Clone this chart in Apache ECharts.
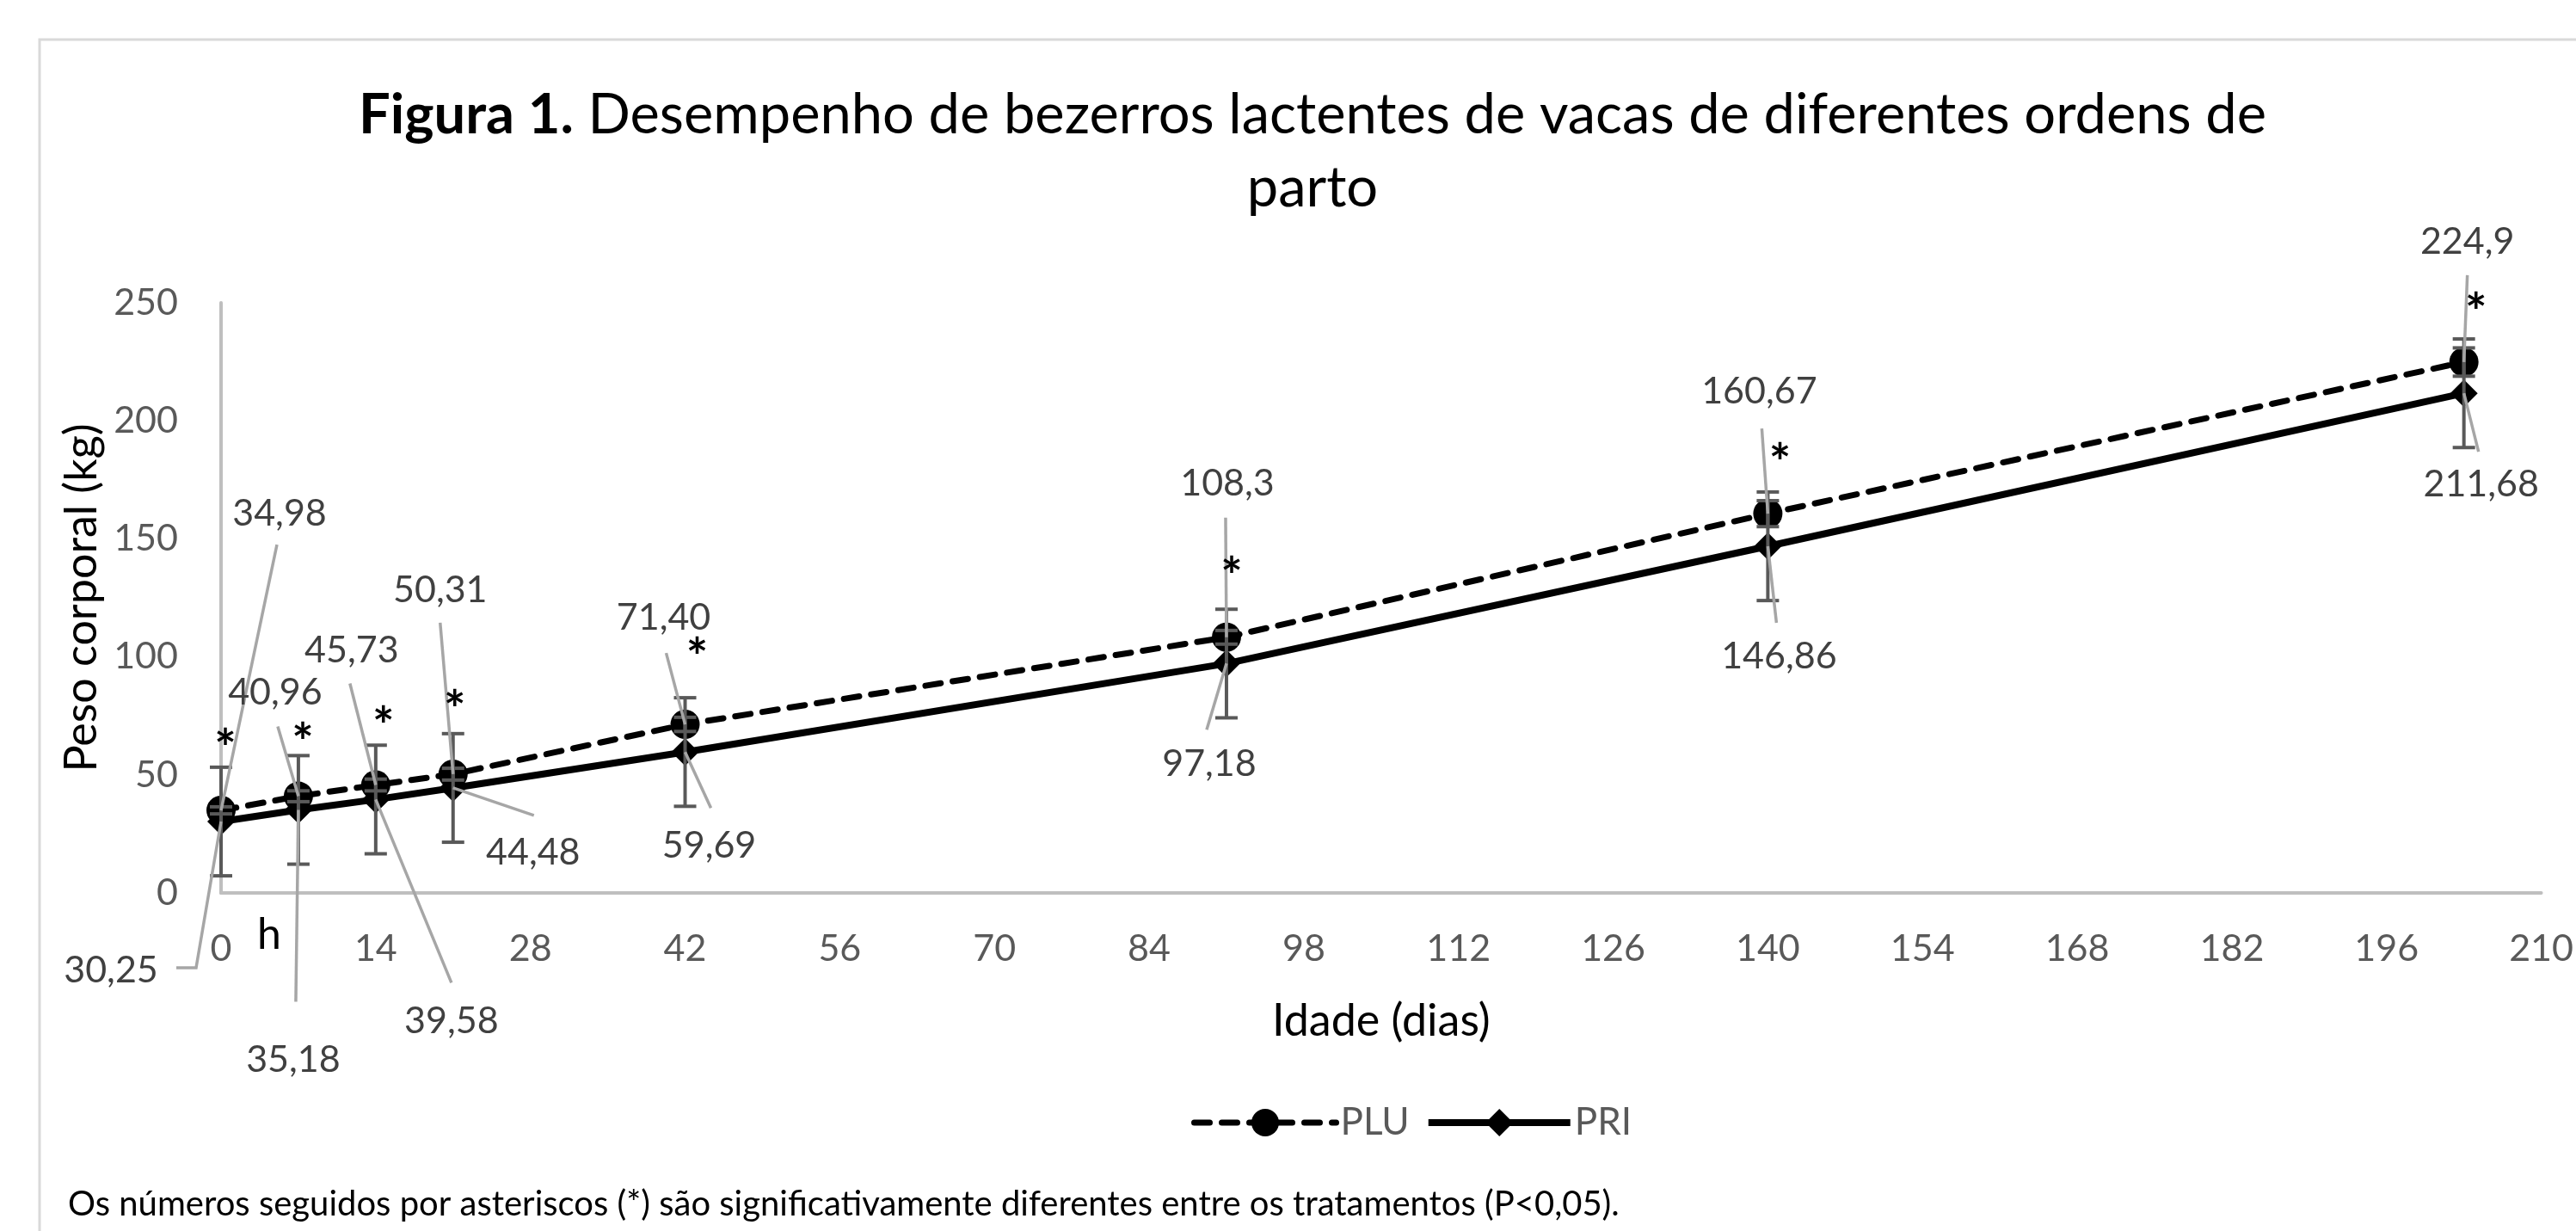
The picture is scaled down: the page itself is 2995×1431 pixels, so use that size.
<!DOCTYPE html>
<html>
<head>
<meta charset="utf-8">
<style>html,body{margin:0;padding:0;background:#fff}#chart{width:2995px;height:1431px}</style>
<script src="https://cdn.jsdelivr.net/npm/echarts@6/dist/echarts.min.js"></script>
</head>
<body>
<div id="chart"></div>
<script>
// idade (dias) de cada pesagem
var dias = [0, 7, 14, 21, 42, 91, 140, 203];
// peso corporal (kg)
var pesoPLU = [34.98, 40.96, 45.73, 50.31, 71.40, 108.3, 160.67, 224.9];
var pesoPRI = [30.25, 35.18, 39.58, 44.48, 59.69, 97.18, 146.86, 211.68];
// barras de erro (kg)
var erroPLU = [1.5, 2.3, 2.5, 2.5, 3, 2.9, 5.5, 6];
var erroPRI = [23, 23, 23, 23, 23, 23, 23, 23];
// rotulos como aparecem na figura
var rotPLU = ['34,98', '40,96', '45,73', '50,31', '71,40', '108,3', '160,67', '224,9'];
var rotPRI = ['30,25', '35,18', '39,58', '44,48', '59,69', '97,18', '146,86', '211,68'];
// eixos
var eixoX = { min: 0, max: 210, passo: 14 };
var eixoY = { min: 0, max: 250, passo: 50 };

// posicao dos rotulos em px em relacao ao ponto: [dx, dy, linhaX, linhaY, cotoveloX]
var posPLU = [[68, -345, 65, -309], [-27, -120, -24, -81], [-28, -156, -30, -118], [-15, -214, -15, -176],
              [-25, -124, -22, -83], [1, -179, -1, -139], [-10, -142, -7, -99], [4, -140, 4, -101]];
var posPRI = [[-128, 173, -52, 170, -29], [-6, 291, -3, 223], [88, 258, 88, 213], [93, 75, 94, 32],
              [28, 109, 30, 65], [-20, 117, -23, 77], [13, 128, 10, 89], [20, 106, 17, 68]];
var posAst = [[5, -70], [5, -61], [9, -67], [2, -73], [14, -76], [6, -69], [14, -57], [14, -56]];

var fonte = 'Lato';

function pares(vals) {
    return dias.map(function (d, i) { return [d, vals[i]]; });
}

function barras(vals, erros) {
    return dias.map(function (d, i) { return [d, vals[i] - erros[i], vals[i] + erros[i]]; });
}

function erroItem(params, api) {
    var x = api.value(0);
    var lo = api.coord([x, api.value(1)]);
    var hi = api.coord([x, api.value(2)]);
    var w = 13;
    var st = { stroke: '#595959', lineWidth: 4 };
    return {
        type: 'group',
        children: [
            { type: 'line', shape: { x1: lo[0], y1: lo[1], x2: hi[0], y2: hi[1] }, style: st },
            { type: 'line', shape: { x1: lo[0] - w, y1: lo[1], x2: lo[0] + w, y2: lo[1] }, style: st },
            { type: 'line', shape: { x1: hi[0] - w, y1: hi[1], x2: hi[0] + w, y2: hi[1] }, style: st }
        ]
    };
}

function rotuloItem(pos, textos) {
    return function (params, api) {
        var p = api.coord([api.value(0), api.value(1)]);
        var o = pos[params.dataIndex];
        var pts = [[p[0] + o[2], p[1] + o[3]]];
        if (o.length > 4) pts.push([p[0] + o[4], p[1] + o[3]]);
        pts.push(p);
        return {
            type: 'group',
            children: [
                { type: 'polyline', shape: { points: pts }, style: { stroke: '#a6a6a6', lineWidth: 3.5, fill: null } },
                { type: 'text', x: p[0] + o[0], y: p[1] + o[1],
                  style: { text: textos[params.dataIndex], fill: '#404040', fontSize: 43, fontFamily: fonte,
                           align: 'center', verticalAlign: 'middle' } }
            ]
        };
    };
}

function asteriscoItem(params, api) {
    var p = api.coord([api.value(0), api.value(1)]);
    var o = posAst[params.dataIndex];
    return {
        type: 'text', x: p[0] + o[0], y: p[1] + o[1],
        style: { text: '*', fill: '#000', fontSize: 60, fontWeight: 'bold', fontFamily: fonte,
                 align: 'center', verticalAlign: 'middle' }
    };
}

var chart = echarts.init(document.getElementById('chart'));
chart.setOption({
    animation: false,
    backgroundColor: '#fff',
    textStyle: { fontFamily: fonte },
    title: {
        text: '{b|Figura 1.} Desempenho de bezerros lactentes de vacas de diferentes ordens de\nparto',
        left: 1526,
        textAlign: 'center',
        top: 92,
        padding: 0,
        textStyle: {
            fontFamily: fonte, fontSize: 65, fontWeight: 'normal', color: '#000', lineHeight: 85,
            rich: { b: { fontFamily: fonte, fontSize: 65, fontWeight: 'bold', color: '#000', lineHeight: 85 } }
        }
    },
    legend: {
        data: ['PLU', 'PRI'],
        left: 1380,
        top: 1278,
        itemWidth: 165,
        itemHeight: 40,
        itemGap: 18,
        lineStyle: { width: 'inherit', type: 'inherit' },
        textStyle: { fontFamily: fonte, fontSize: 44, color: '#595959' }
    },
    grid: { left: 257, right: 27, top: 352, bottom: 393 },
    xAxis: {
        type: 'value',
        min: eixoX.min, max: eixoX.max, interval: eixoX.passo,
        name: 'Idade (dias)',
        nameLocation: 'middle',
        nameGap: 123,
        nameTextStyle: { fontFamily: fonte, fontSize: 52, color: '#000' },
        axisLine: { show: true, lineStyle: { color: '#bfbfbf', width: 4 } },
        axisTick: { show: false },
        splitLine: { show: false },
        axisLabel: { fontFamily: fonte, fontSize: 43, color: '#595959', margin: 44 }
    },
    yAxis: {
        type: 'value',
        min: eixoY.min, max: eixoY.max, interval: eixoY.passo,
        name: 'Peso corporal (kg)',
        nameLocation: 'middle',
        nameGap: 134,
        nameTextStyle: { fontFamily: fonte, fontSize: 52, color: '#000' },
        axisLine: { show: true, lineStyle: { color: '#bfbfbf', width: 4 } },
        axisTick: { show: false },
        splitLine: { show: false },
        axisLabel: { fontFamily: fonte, fontSize: 43, color: '#595959', margin: 50 }
    },
    series: [
        {
            name: 'PLU', type: 'line', data: pares(pesoPLU), z: 2,
            symbol: 'circle', symbolSize: 34,
            itemStyle: { color: '#000' },
            lineStyle: { color: '#000', width: 7, type: [18, 14], cap: 'round' }
        },
        {
            name: 'PRI', type: 'line', data: pares(pesoPRI), z: 2,
            symbol: 'diamond', symbolSize: 32,
            itemStyle: { color: '#000' },
            lineStyle: { color: '#000', width: 8 }
        },
        { name: 'erroPRI', type: 'custom', data: barras(pesoPRI, erroPRI), renderItem: erroItem, z: 3 },
        { name: 'erroPLU', type: 'custom', data: barras(pesoPLU, erroPLU), renderItem: erroItem, z: 3 },
        { name: 'rotPLU', type: 'custom', data: pares(pesoPLU), renderItem: rotuloItem(posPLU, rotPLU), z: 4 },
        { name: 'rotPRI', type: 'custom', data: pares(pesoPRI), renderItem: rotuloItem(posPRI, rotPRI), z: 4 },
        { name: 'asterisco', type: 'custom', data: pares(pesoPLU), renderItem: asteriscoItem, z: 5 }
    ],
    graphic: [
        { type: 'rect', z: -10, silent: true, shape: { x: 46, y: 46, width: 3100, height: 1500 },
          style: { fill: null, stroke: '#d9d9d9', lineWidth: 3 } },
        { type: 'text', x: 313, y: 1087,
          style: { text: 'h', fill: '#000', fontSize: 50, fontFamily: fonte, align: 'center', verticalAlign: 'middle' } },
        { type: 'text', x: 79, y: 1400,
          style: { text: 'Os números seguidos por asteriscos (*) são significativamente diferentes entre os tratamentos (P<0,05).',
                   fill: '#000', fontSize: 40, fontFamily: fonte, verticalAlign: 'middle' } }
    ]
});
</script>
</body>
</html>
